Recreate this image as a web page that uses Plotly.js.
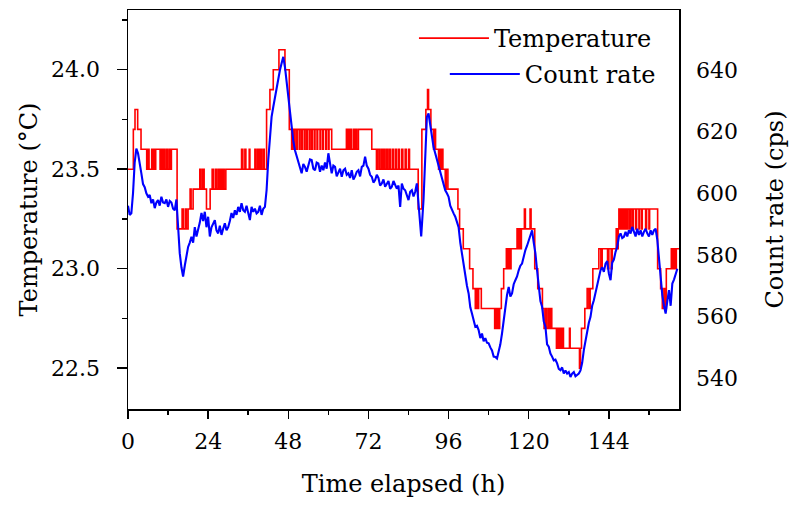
<!DOCTYPE html>
<html>
<head>
<meta charset="utf-8">
<script src="https://cdn.plot.ly/plotly-3.0.1.min.js"></script>
<style>html,body{margin:0;padding:0;background:#fff;}#chart{width:795px;height:506px;}</style>
</head>
<body>
<div id="chart"></div>
<script>
// Temperature (°C): step changes (hour, value)
const tempHours = [0,1.6,2.1,2.9,3.9,5.6,6.0,6.3,7.1,7.4,7.7,8.0,8.3,9.6,10.0,10.3,10.7,11.0,11.5,11.8,12.3,12.6,13.0,
  14.7,16.2,16.6,17.2,17.5,18.0,18.6,18.9,19.5,21.5,21.9,22.4,22.8,23.5,24.6,25.2,25.6,26.2,26.5,27.0,27.3,27.6,28.0,28.4,28.8,29.3,
  34.0,34.4,35.0,35.3,36.3,36.5,38.0,38.3,38.8,39.2,39.6,40.0,40.5,40.8,41.5,42.5,43.5,45.2,47.0,48.3,
  49.0,49.3,49.7,50.0,50.5,50.7,51.3,51.5,52.0,52.2,52.8,53.0,53.5,53.7,54.3,54.5,55.0,55.2,55.8,56.0,56.6,56.8,57.5,57.7,58.3,58.5,59.2,59.4,60.0,60.2,61.0,
  65.4,65.6,66.0,66.2,66.6,67.0,67.6,67.9,68.2,68.5,69.0,73.0,
  74.4,74.8,75.3,75.8,76.2,76.6,77.0,77.5,77.8,78.3,78.6,79.2,79.5,80.1,80.4,81.0,81.3,82.0,82.3,83.0,83.3,84.0,84.3,86.9,
  88.0,89.2,89.7,90.0,90.7,91.5,91.8,92.1,93.0,93.3,93.6,94.0,94.3,95.0,95.3,95.8,98.8,99.3,100.4,102.3,103.3,104.0,104.3,104.7,105.0,105.8,
  109.8,110.0,110.3,110.7,111.0,111.3,111.8,112.5,113.3,113.6,114.0,114.4,114.7,116.5,116.8,117.2,117.5,117.8,118.7,119.0,120.4,120.7,
  121.8,122.7,124.1,124.6,125.1,125.4,125.9,126.2,126.6,126.9,128.3,128.7,129.0,129.4,129.7,130.1,130.4,132.2,132.4,135.2,135.5,135.8,
  136.8,137.5,138.0,138.4,139.2,141.0,141.6,142.0,143.6,144.0,144.7,145.0,146.2,146.5,146.8,147.0,147.3,147.6,148.0,148.3,148.6,149.0,149.3,149.7,
  150.2,150.5,151.0,151.3,152.0,152.3,153.0,153.2,153.8,154.0,155.0,155.3,156.0,156.2,158.6,159.5,160.0,160.5,160.8,161.2,162.7,163.0,163.4,163.8,164.2,165.0];
const temperature = [23.5,23.7,23.8,23.7,23.6,23.5,23.6,23.5,23.6,23.5,23.6,23.5,23.6,23.5,23.6,23.5,23.6,23.5,23.6,23.5,23.6,23.5,23.6,
  23.2,23.3,23.2,23.3,23.2,23.3,23.4,23.3,23.4,23.5,23.4,23.5,23.4,23.3,23.4,23.5,23.4,23.5,23.4,23.5,23.4,23.5,23.4,23.5,23.4,23.5,
  23.6,23.5,23.6,23.5,23.6,23.5,23.6,23.5,23.6,23.5,23.6,23.5,23.6,23.5,23.8,23.9,24.0,24.1,24.0,23.7,
  23.6,23.7,23.6,23.7,23.6,23.7,23.6,23.7,23.6,23.7,23.6,23.7,23.6,23.7,23.6,23.7,23.6,23.7,23.6,23.7,23.6,23.7,23.6,23.7,23.6,23.7,23.6,23.7,23.6,23.7,23.6,
  23.7,23.6,23.7,23.6,23.7,23.6,23.7,23.6,23.7,23.6,23.7,23.6,
  23.5,23.6,23.5,23.6,23.5,23.6,23.5,23.6,23.5,23.6,23.5,23.6,23.5,23.6,23.5,23.6,23.5,23.6,23.5,23.6,23.5,23.6,23.5,23.3,
  23.7,23.8,23.9,23.8,23.7,23.6,23.7,23.6,23.5,23.6,23.5,23.6,23.5,23.4,23.5,23.4,23.3,23.2,23.1,23.0,22.9,22.8,22.9,22.8,22.9,22.8,
  22.7,22.8,22.7,22.8,22.7,22.8,22.9,23.0,23.1,23.0,23.1,23.0,23.1,23.2,23.1,23.2,23.1,23.2,23.3,23.2,23.3,23.2,
  23.0,22.9,22.8,22.7,22.8,22.7,22.8,22.7,22.8,22.7,22.6,22.7,22.6,22.7,22.6,22.7,22.6,22.7,22.6,22.5,22.6,22.7,
  22.8,22.9,22.8,22.9,23.0,23.1,23.0,23.1,23.0,23.1,23.0,23.1,23.2,23.1,23.2,23.3,23.2,23.3,23.2,23.3,23.2,23.3,23.2,23.3,
  23.2,23.3,23.2,23.3,23.2,23.3,23.2,23.3,23.2,23.3,23.2,23.3,23.2,23.3,23.0,22.9,22.8,22.9,22.8,23.0,23.1,23.0,23.1,23.0,23.1,23.1];

// Count rate (cps)
const countHours = [0,0.5,1,1.5,2,2.5,3,3.5,4,4.5,5,5.5,6,6.5,7,7.5,8,8.5,9,9.5,10,10.5,11,11.5,12,12.5,13,13.5,14,14.5,
  15,15.5,16,16.5,17,17.5,18,18.5,19,19.5,20,20.5,21,21.5,22,22.5,23,23.5,24,24.5,25,25.5,26,26.5,27,27.5,28,28.5,29,29.5,
  30,30.5,31,31.5,32,32.5,33,33.5,34,34.5,35,35.5,36,36.5,37,37.5,38,38.5,39,39.5,40,40.5,41,41.5,42,42.5,43,43.5,44,44.5,
  45,45.5,46,46.5,47,47.5,48,48.5,49,49.5,50,50.5,51,51.5,52,52.5,53,53.5,54,54.5,55,55.5,56,56.5,57,57.5,58,58.5,59,59.5,
  60,60.5,61,61.5,62,62.5,63,63.5,64,64.5,65,65.5,66,66.5,67,67.5,68,68.5,69,69.5,70,70.5,71,71.5,72,72.5,73,73.5,74,74.5,
  75,75.5,76,76.5,77,77.5,78,78.5,79,79.5,80,80.5,81,81.5,82,82.5,83,83.5,84,84.5,85,85.5,86,86.5,87,87.5,87.8,88.5,89,89.5,
  90,90.5,91,91.5,92,92.5,93,93.5,94,94.5,95,95.5,96,96.5,97,97.5,98,98.5,99,99.5,100,100.5,101,101.5,102,102.5,103,103.5,104,104.5,
  105,105.5,106,106.5,107,107.5,108,108.5,109,109.5,110,110.5,111,111.5,112,112.5,113,113.5,114,114.5,115,115.5,116,116.5,117,117.5,118,118.5,119,119.5,
  120,120.5,121,121.5,122,122.5,123,123.5,124,124.5,125,125.5,126,126.5,127,127.5,128,128.5,129,129.5,130,130.5,131,131.5,132,132.5,133,133.5,134,134.5,
  135,135.5,136,136.5,137,137.5,138,138.5,139,139.5,140,140.5,141,141.5,142,142.5,143,143.5,144,144.5,145,145.5,146,146.5,147,147.5,148,148.5,149,149.5,
  150,150.5,151,151.5,152,152.5,153,153.5,154,154.5,155,155.5,156,156.5,157,157.5,158,158.5,159,159.5,160,160.5,161,161.5,162,162.5,163,163.5,164,164.5];
const countRate = [596,593,593.5,600,610,614.5,613,609,606.5,603,602,600,598.9,599.5,596.8,598,595.2,597,597.8,596,598.9,597,596.8,598,595.6,597.5,597,595,594.5,598,
  589,580.5,576,573,576.5,580,582.6,584,585.9,584,589,586,588,590.5,593.6,591,594,589,592.4,586,589,590,591.3,588,587,589.5,586.5,588.5,590.3,588,
  589,591,593.6,592,594.5,593,595.6,594,596.8,594.5,594,596,593,591.3,595.6,594,595,593.5,594,596,593,595,595.6,601,610.8,618,624.8,628,631.3,634,
  637.8,640,642.2,644.3,641,636,631.3,626,621.6,617,614,612,610.8,608,606.5,609.5,608.6,607,609,611,610.8,608,607.5,610,609.7,607,609,607.5,610,608,
  613,609,606.5,609,608.6,605.5,606.5,608,605.4,607.5,608,606,606.5,605,607.5,604.5,605.5,607,607.5,605.5,608.6,609,611.9,609,608,606,605.4,603.5,604.3,606,
  605,602.5,603.2,604.5,602.1,603,604,601.5,602.1,604,603,601.5,602.5,595.6,603.2,601.5,601,599.5,597.8,600.5,601,599,600.5,603.2,595.6,589,586,598,610,624.8,
  625.9,622,618.4,615,613,611,609.7,607,605.4,603,601,600,598.9,596,594.5,593.5,592.4,590.5,589,584,580.5,576,574,570,567.5,563,561,558.5,556.7,557,
  555.6,553,554.5,552,553,551.5,551.3,550,549,547,546.9,546.4,548.5,551,554.5,559,563.2,567,569.6,566.5,567.5,570.5,571.8,573,575,576.5,577.2,580,581.6,583,
  584.8,586.5,588,584,580.5,575,570.7,565,563.2,558.5,556.7,551,550.2,548,547,545.8,546,544.8,543,542.6,543.5,541.5,542.5,541.5,542,540.4,541.5,542,540.6,541,
  541.5,542.5,545,549.1,552.5,554.5,558,559.9,563.5,565.3,568,569.6,573,575,576,574.5,577.2,578,574,571.8,577.5,578.5,581,582.6,586,587,585.5,585.9,587.5,586,
  588,587,589.1,587.5,586,588.5,586.5,588,586,587.5,588.5,587,586,588,586.5,588,588.5,585,578,572,567,563.5,561,565,568.6,563.5,570.7,572,574,575.5];

const serif = 'DejaVu Serif, serif';
const traces = [
  {x: tempHours, y: temperature, type: 'scatter', mode: 'lines', name: 'Temperature',
   line: {color: '#ff0000', width: 1.6, shape: 'hv'}, yaxis: 'y', legend: 'legend'},
  {x: countHours, y: countRate, type: 'scatter', mode: 'lines', name: 'Count rate',
   line: {color: '#0000ff', width: 2.1}, yaxis: 'y2', legend: 'legend2'}
];
const layout = {
  width: 795, height: 506,
  margin: {l: 128, r: 116, t: 10, b: 97},
  paper_bgcolor: '#fff', plot_bgcolor: '#fff',
  font: {family: serif, size: 22, color: '#000'},
  showlegend: true,
  xaxis: {
    range: [0, 165], tickvals: [0, 24, 48, 72, 96, 120, 144], ticks: 'outside', ticklen: 8, tickwidth: 1.5,
    tickcolor: '#000', showline: true, linecolor: '#000', linewidth: 1.5, mirror: true, showgrid: false, zeroline: false,
    minor: {dtick: 12, tick0: 0, ticks: 'outside', ticklen: 4, tickwidth: 1.5, tickcolor: '#000', showgrid: false},
    ticklabelstandoff: 4, automargin: false,
    title: {text: 'Time elapsed (h)', font: {family: serif, size: 24}, standoff: 22}
  },
  yaxis: {
    range: [22.295, 24.30], tick0: 22.5, dtick: 0.5, tickformat: '.1f', ticks: 'outside', ticklen: 10, tickwidth: 1.5,
    tickcolor: '#000', showline: true, linecolor: '#000', linewidth: 1.5, mirror: true, showgrid: false, zeroline: false,
    minor: {dtick: 0.25, tick0: 22.5, ticks: 'outside', ticklen: 5, tickwidth: 1.5, tickcolor: '#000', showgrid: false},
    ticklabelstandoff: 12, automargin: false,
    title: {text: 'Temperature (°C)', font: {family: serif, size: 24}, standoff: 6}
  },
  yaxis2: {
    range: [530, 659.5], tick0: 540, dtick: 20, overlaying: 'y', side: 'right', ticks: '', showline: false,
    showgrid: false, zeroline: false, ticklabelstandoff: 16, automargin: false,
    title: {text: 'Count rate (cps)', font: {family: serif, size: 24}, standoff: 29}
  },
  legend: {x: 0.96, xanchor: 'right', y: 0.985, yanchor: 'top', bgcolor: 'rgba(0,0,0,0)', borderwidth: 0,
    font: {family: serif, size: 24}, itemwidth: 70},
  legend2: {x: 0.967, xanchor: 'right', y: 0.895, yanchor: 'top', bgcolor: 'rgba(0,0,0,0)', borderwidth: 0,
    font: {family: serif, size: 24}, itemwidth: 70}
};
Plotly.newPlot('chart', traces, layout, {displayModeBar: false, staticPlot: true});
</script>
</body>
</html>
